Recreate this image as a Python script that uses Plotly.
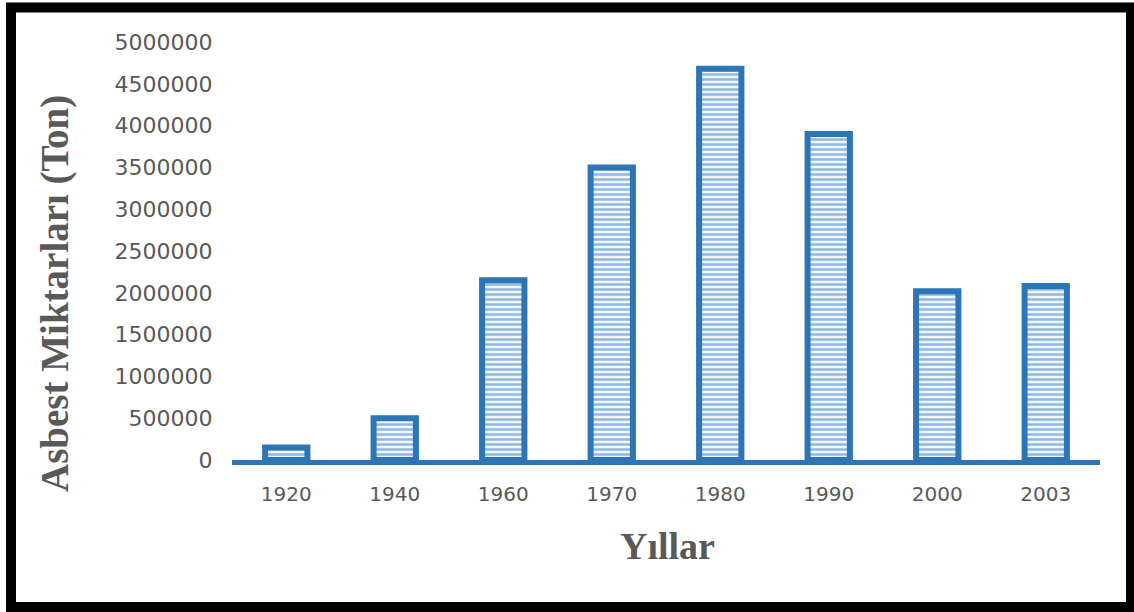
import plotly.graph_objects as go

years = ["1920", "1940", "1960", "1970", "1980", "1990", "2000", "2003"]
amounts = [150000, 500000, 2150000, 3500000, 4680000, 3900000, 2020000, 2080000]
y_ticks = [0, 500000, 1000000, 1500000, 2000000, 2500000, 3000000, 3500000, 4000000, 4500000, 5000000]
y_title = "Asbest Miktarları (Ton)"
x_title = "Yıllar"

blue = "#2E75B6"
gray = "#595959"

fig = go.Figure()
fig.add_trace(go.Bar(
    x=years, y=amounts,
    marker=dict(
        color="#EEF4FB",
        line=dict(color=blue, width=6),
        pattern=dict(shape="-", fgcolor="#8FB8E3", bgcolor="#F2F7FC", size=5, solidity=0.5, fillmode="replace"),
    ),
    width=0.39,
))

L, R, T, B = 232, 34, 42, 152
W, H = 1134, 612
pw, ph = W - L - R, H - T - B

def px_x(px):
    return (px - L) / pw

def px_y(py):
    return (H - B - py) / ph

fig.update_layout(
    width=W, height=H,
    margin=dict(l=L, r=R, t=T, b=B),
    paper_bgcolor="white", plot_bgcolor="white",
    showlegend=False,
    xaxis=dict(
        type="category",
        showline=True, linecolor=blue, linewidth=5,
        showgrid=False, zeroline=False,
        ticks="outside", ticklen=12, tickcolor="rgba(0,0,0,0)",
        tickfont=dict(family="DejaVu Sans", size=20, color=gray),
    ),
    yaxis=dict(
        range=[0, 5000000],
        tickvals=y_ticks,
        ticktext=[str(v) for v in y_ticks],
        showline=False, showgrid=False, zeroline=False,
        ticks="outside", ticklen=14, tickcolor="rgba(0,0,0,0)",
        tickfont=dict(family="DejaVu Sans", size=22, color=gray),
    ),
    annotations=[
        dict(text=f"<b>{y_title}</b>", xref="paper", yref="paper",
             x=px_x(55), y=px_y(294), textangle=-90, showarrow=False,
             xanchor="center", yanchor="middle",
             font=dict(family="Liberation Serif", size=39, color=gray)),
        dict(text=f"<b>{x_title}</b>", xref="paper", yref="paper",
             x=px_x(667), y=px_y(546), showarrow=False,
             xanchor="center", yanchor="middle",
             font=dict(family="Liberation Serif", size=38, color=gray)),
    ],
    shapes=[
        dict(type="rect", xref="paper", yref="paper",
             x0=px_x(11), x1=px_x(1131), y0=px_y(607), y1=px_y(7.5),
             line=dict(color="black", width=10), fillcolor="rgba(0,0,0,0)", layer="above"),
    ],
)

fig.write_html("out.html", config={"displayModeBar": False},
               post_script="document.body.style.margin='0';document.body.style.overflow='hidden';")
